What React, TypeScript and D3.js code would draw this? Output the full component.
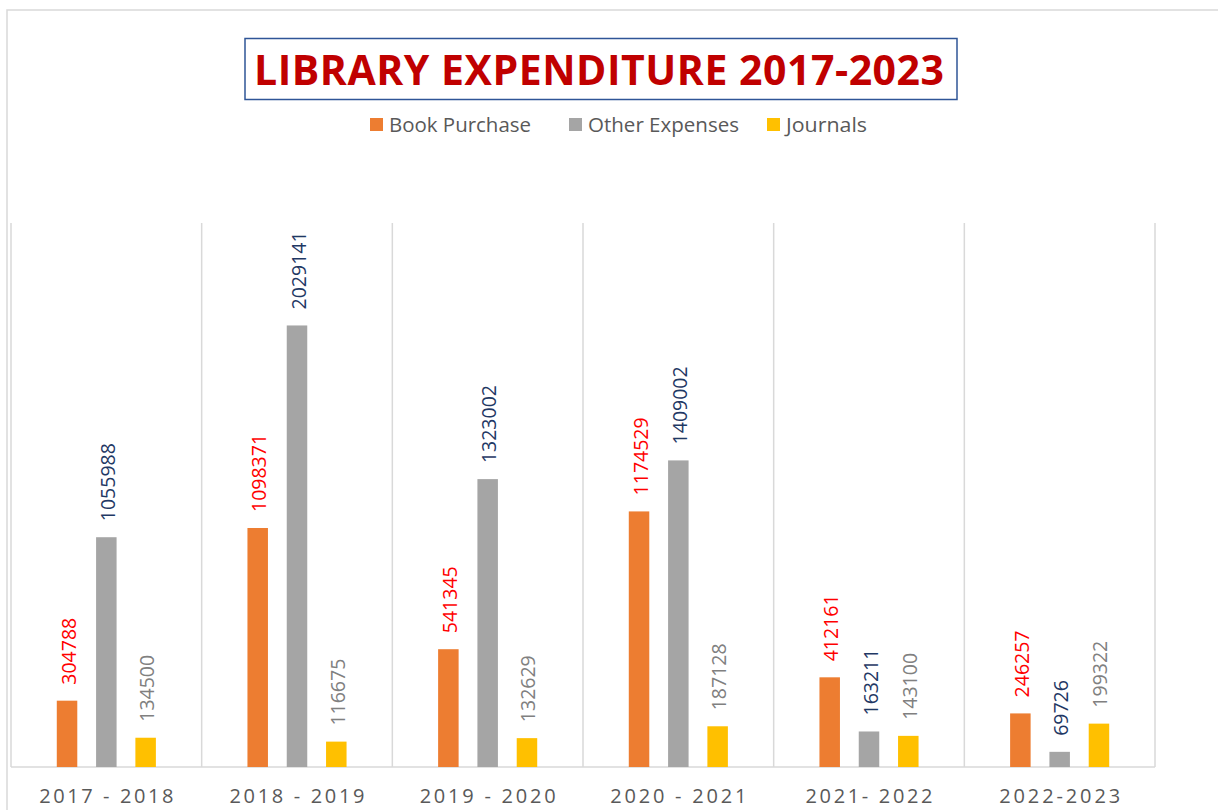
import React from "react";
import * as d3 from "d3";

const categories = ["2017 - 2018", "2018 - 2019", "2019 - 2020", "2020 - 2021", "2021- 2022", "2022-2023"];
const seriesNames = ["Book Purchase", "Other Expenses", "Journals"];
const bookPurchase = [304788, 1098371, 541345, 1174529, 412161, 246257];
const otherExpenses = [1055988, 2029141, 1323002, 1409002, 163211, 69726];
const journals = [134500, 116675, 132629, 187128, 143100, 199322];
const barColors = ["#ED7D31", "#A5A5A5", "#FFC000"];
const labelColors = ["#FF0000", "#1F3864", "#808080"];
const axisLabelWidths = [134, 135, 136, 136, 127, 121];
const legendWidths = [142, 151, 81];

export default function App() {
  const W = 1218, H = 810;
  const left = 11, right = 1155, top = 223, bottom = 767;
  const x = d3.scaleBand<string>().domain(categories).range([left, right]).padding(0);
  const y = d3.scaleLinear().domain([0, 2500000]).range([bottom, top]);
  const series = [bookPurchase, otherExpenses, journals];
  const barW = 20.5;
  const font = "'Open Sans', 'Liberation Sans', sans-serif";
  const legendX = [370, 569, 767];

  return (
    <svg width={W} height={H} style={{ position: "absolute", left: 0, top: 0, display: "block", background: "#fff" }}>
      <rect x={7} y={10} width={1300} height={900} fill="#fff" stroke="#D9D9D9" strokeWidth={1.5} />
      {/* title */}
      <rect x={245} y={38.5} width={712} height={61} fill="#fff" stroke="#2F5597" strokeWidth={1.5} />
      <text x={254} y={85} textLength={690} lengthAdjust="spacing" fill="#C00000"
        style={{ fontFamily: "'Open Sans', sans-serif", fontWeight: 700, fontSize: 41 }}>
        LIBRARY EXPENDITURE 2017-2023
      </text>
      {/* legend */}
      {seriesNames.map((s, i) => (
        <g key={s}>
          <rect x={legendX[i]} y={118} width={13} height={13} fill={barColors[i]} />
          <text x={legendX[i] + 19} y={132} textLength={legendWidths[i]} lengthAdjust="spacingAndGlyphs"
            fill="#595959" style={{ fontFamily: font, fontSize: 20 }}>{s}</text>
        </g>
      ))}
      {/* gridlines */}
      {d3.range(categories.length + 1).map(i => {
        const gx = left + i * x.bandwidth();
        return <line key={i} x1={gx} x2={gx} y1={top} y2={bottom} stroke="#D9D9D9" strokeWidth={1.5} />;
      })}
      <line x1={left} x2={right} y1={bottom} y2={bottom} stroke="#D9D9D9" strokeWidth={1.5} />
      {/* bars */}
      {categories.map((c, ci) => {
        const cx = (x(c) as number) + x.bandwidth() / 2;
        return (
          <g key={c}>
            {series.map((vals, si) => {
              const center = cx + (si - 1) * 39.3;
              const yt = y(vals[ci]);
              return (
                <g key={si}>
                  <rect x={center - barW / 2} y={yt} width={barW} height={bottom - yt} fill={barColors[si]} />
                  <text transform={`translate(${center + 1.5},${yt - 16}) rotate(-90)`} dy="0.36em"
                    fill={labelColors[si]} style={{ fontFamily: font, fontSize: 19.5 }}>
                    {vals[ci]}
                  </text>
                </g>
              );
            })}
            <text x={cx - axisLabelWidths[ci] / 2} y={803} textLength={axisLabelWidths[ci]} lengthAdjust="spacing"
              fill="#595959" style={{ fontFamily: font, fontSize: 20 }}>
              {c}
            </text>
          </g>
        );
      })}
    </svg>
  );
}
